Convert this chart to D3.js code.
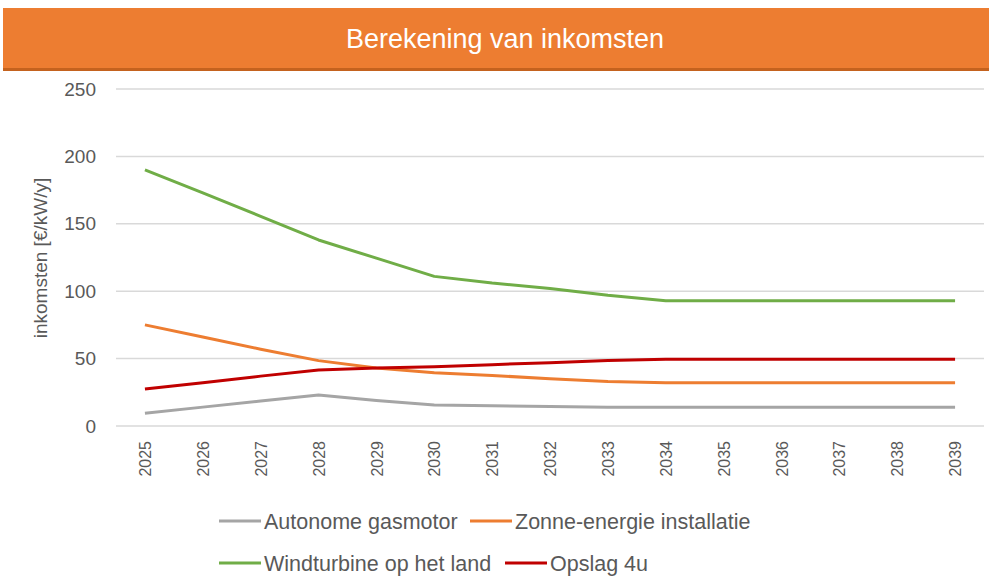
<!DOCTYPE html>
<html>
<head>
<meta charset="utf-8">
<script src="https://cdn.jsdelivr.net/npm/d3@7"></script>
<style>
  body { margin: 0; background: #fff; }
  text { font-family: "Liberation Sans", Arial, sans-serif; }
</style>
</head>
<body>
<svg id="chart" width="989" height="580"></svg>
<script>
const years = [2025, 2026, 2027, 2028, 2029, 2030, 2031, 2032, 2033, 2034, 2035, 2036, 2037, 2038, 2039];
const gasmotor = [9.5, 14, 18.5, 23, 19, 15.5, 15, 14.5, 14, 14, 14, 14, 14, 14, 14];
const zonne = [75, 66, 57, 48.5, 43, 39.5, 37.5, 35, 33, 32, 32, 32, 32, 32, 32];
const wind = [190, 173, 155.5, 138, 124.5, 111, 106, 102, 97, 93, 93, 93, 93, 93, 93];
const opslag = [27.5, 32, 37, 41.5, 43, 44, 45.5, 47, 48.5, 49.5, 49.5, 49.5, 49.5, 49.5, 49.5];
const yTicks = [0, 50, 100, 150, 200, 250];

const seriesNames = ["Autonome gasmotor", "Zonne-energie installatie", "Windturbine op het land", "Opslag 4u"];
const seriesValues = [gasmotor, zonne, wind, opslag];
const seriesColors = ["#A5A5A5", "#ED7D31", "#70AD47", "#C00000"];

const svg = d3.select("#chart");

// title bar
svg.append("rect").attr("x", 3).attr("y", 8).attr("width", 986).attr("height", 62).attr("fill", "#ED7D31");
svg.append("rect").attr("x", 3).attr("y", 68).attr("width", 986).attr("height", 3).attr("fill", "#C4621E");
svg.append("text")
    .attr("x", 505).attr("y", 48)
    .attr("text-anchor", "middle")
    .attr("fill", "#fff")
    .attr("font-size", 27)
    .text("Berekening van inkomsten");

const x = d3.scalePoint().domain(years).range([116, 984]).padding(0.5);
const y = d3.scaleLinear().domain([0, 250]).range([426, 89]);

// gridlines
svg.append("g")
    .selectAll("line")
    .data(yTicks)
    .enter().append("line")
    .attr("x1", 116).attr("x2", 984)
    .attr("y1", d => y(d)).attr("y2", d => y(d))
    .attr("stroke", "#D9D9D9")
    .attr("stroke-width", 1.5);

// y axis
const yAxis = svg.append("g")
    .attr("transform", "translate(116,0)")
    .call(d3.axisLeft(y).tickValues(yTicks).tickSize(0).tickPadding(20));
yAxis.select(".domain").remove();
yAxis.selectAll("text").attr("font-size", 19).attr("fill", "#595959").attr("font-family", "Liberation Sans, Arial");

// x axis
const xAxis = svg.append("g")
    .attr("transform", `translate(0,${y(0)})`)
    .call(d3.axisBottom(x).tickSize(0));
xAxis.select(".domain").remove();
xAxis.selectAll("text")
    .attr("font-size", 16)
    .attr("fill", "#595959")
    .attr("font-family", "Liberation Sans, Arial")
    .attr("transform", "rotate(-90)")
    .attr("text-anchor", "end")
    .attr("x", -15)
    .attr("y", 0)
    .attr("dy", "0.35em");

// y axis title
svg.append("text")
    .attr("transform", "translate(47,258) rotate(-90)")
    .attr("text-anchor", "middle")
    .attr("font-size", 19)
    .attr("fill", "#595959")
    .text("inkomsten [€/kW/y]");

// lines
const line = d3.line()
    .x((d, i) => x(years[i]))
    .y(d => y(d));

svg.append("g")
    .selectAll("path")
    .data(seriesValues)
    .enter().append("path")
    .attr("d", line)
    .attr("fill", "none")
    .attr("stroke", (d, i) => seriesColors[i])
    .attr("stroke-width", 3)
    .attr("stroke-linejoin", "round");

// legend
const legendPos = [[219, 521], [470, 521], [219, 563], [505, 563]];
const legend = svg.append("g")
    .selectAll("g")
    .data(seriesNames)
    .enter().append("g")
    .attr("transform", (d, i) => `translate(${legendPos[i][0]},${legendPos[i][1]})`);

legend.append("line")
    .attr("x1", 0).attr("x2", 42)
    .attr("stroke", (d, i) => seriesColors[i])
    .attr("stroke-width", 3);

legend.append("text")
    .attr("x", 45)
    .attr("dy", "0.35em")
    .attr("font-size", 21.5)
    .attr("fill", "#595959")
    .text(d => d);
</script>
</body>
</html>
